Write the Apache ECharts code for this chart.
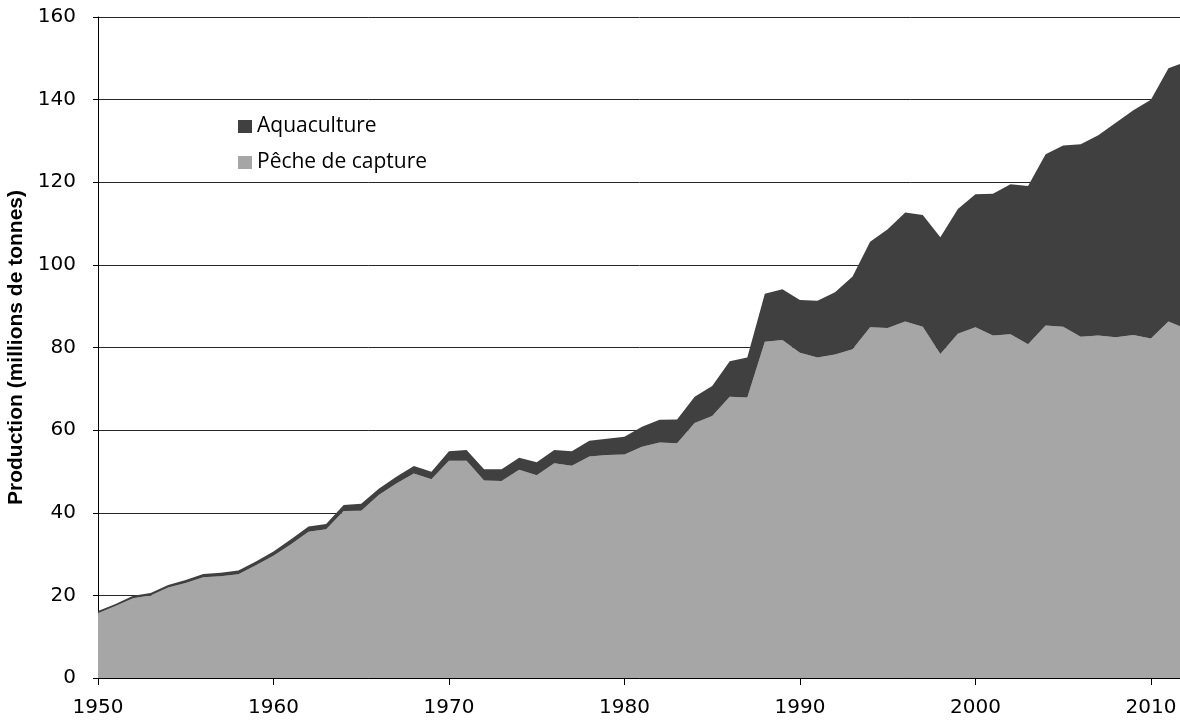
<!DOCTYPE html>
<html>
<head>
<meta charset="utf-8">
<title>Production mondiale</title>
<script src="https://cdn.jsdelivr.net/npm/echarts@6.0.0/dist/echarts.min.js"></script>
<style>
	html, body { margin: 0; padding: 0; background: #ffffff; }
	#productionChart { width: 1180px; height: 721px; }
</style>
</head>
<body>
<div id="productionChart"></div>
<script>
// années 1950 - 2012
var years = ['1950', '1951', '1952', '1953', '1954', '1955', '1956', '1957', '1958', '1959',
	'1960', '1961', '1962', '1963', '1964', '1965', '1966', '1967', '1968', '1969',
	'1970', '1971', '1972', '1973', '1974', '1975', '1976', '1977', '1978', '1979',
	'1980', '1981', '1982', '1983', '1984', '1985', '1986', '1987', '1988', '1989',
	'1990', '1991', '1992', '1993', '1994', '1995', '1996', '1997', '1998', '1999',
	'2000', '2001', '2002', '2003', '2004', '2005', '2006', '2007', '2008', '2009',
	'2010', '2011', '2012'];

// pêche de capture (millions de tonnes)
var captureValues = [15.7, 17.4, 19.3, 20.0, 21.9, 23.0, 24.4, 24.6, 25.1, 27.3,
	29.6, 32.4, 35.4, 36.0, 40.4, 40.5, 44.3, 47.1, 49.5, 48.1,
	52.6, 52.6, 47.8, 47.7, 50.4, 49.1, 52.0, 51.4, 53.6, 54.0,
	54.1, 56.0, 57.0, 56.8, 61.7, 63.4, 68.1, 67.9, 81.4, 81.8,
	78.7, 77.6, 78.3, 79.6, 84.9, 84.7, 86.3, 85.0, 78.4, 83.3,
	84.9, 82.9, 83.2, 80.8, 85.3, 85.0, 82.6, 82.9, 82.5, 83.0,
	82.2, 86.3, 84.5];

// aquaculture (millions de tonnes)
var aquacultureValues = [0.5, 0.5, 0.6, 0.6, 0.6, 0.7, 0.8, 0.9, 0.9, 0.9,
	1.0, 1.2, 1.3, 1.3, 1.5, 1.7, 1.5, 1.6, 1.8, 1.8,
	2.3, 2.6, 2.7, 2.8, 2.9, 3.1, 3.2, 3.5, 3.8, 3.9,
	4.3, 4.8, 5.5, 5.8, 6.4, 7.3, 8.6, 9.7, 11.6, 12.3,
	12.8, 13.7, 15.1, 17.6, 20.7, 23.9, 26.4, 27.1, 28.3, 30.2,
	32.2, 34.3, 36.3, 38.3, 41.5, 43.9, 46.6, 48.5, 51.9, 54.4,
	57.8, 61.3, 64.7];

var captureColor = '#a6a6a6';
var aquacultureColor = '#404040';

// seulement les décennies sur l'axe x
function isDecade(index, value) {
	return parseInt(value, 10) % 10 === 0;
}

var productionChart = echarts.init(document.getElementById("productionChart"));

var optionProductionChart = {
	animation: false,
	backgroundColor: '#ffffff',
	grid: {
		left: 98,
		right: -6, // la dernière année (2012) sort un peu du cadre
		top: 17,
		bottom: 43,
		outerBoundsMode: 'none'
	},
	legend: {
		orient: 'vertical',
		left: 238,
		top: 116,
		padding: 0,
		icon: 'rect',
		itemWidth: 14,
		itemHeight: 13,
		itemGap: 15,
		data: ['Aquaculture', 'Pêche de capture'],
		textStyle: {
			fontFamily: 'Open Sans',
			fontSize: 21,
			color: '#000000'
		}
	},
	//axe x
	xAxis: {
		type: 'category',
		boundaryGap: false,
		data: years,
		axisLine: {
			onZero: false,
			lineStyle: { color: '#000000', width: 1 }
		},
		axisTick: {
			show: true,
			length: 7,
			interval: isDecade,
			lineStyle: { color: '#000000' }
		},
		axisLabel: {
			interval: isDecade,
			margin: 20,
			fontFamily: 'DejaVu Sans',
			fontSize: 20,
			color: '#000000'
		},
		splitLine: { show: false }
	},
	//axe y
	yAxis: {
		type: 'value',
		min: 0,
		max: 160,
		interval: 20,
		name: 'Production (millions de tonnes)',
		nameLocation: 'middle',
		nameGap: 64,
		nameTextStyle: {
			fontFamily: 'Liberation Sans',
			fontWeight: 'bold',
			fontSize: 21,
			color: '#000000'
		},
		axisLine: {
			show: true,
			lineStyle: { color: '#000000', width: 1 }
		},
		axisTick: {
			show: true,
			length: 5,
			lineStyle: { color: '#000000' }
		},
		axisLabel: {
			margin: 22,
			fontFamily: 'DejaVu Sans',
			fontSize: 20,
			color: '#000000'
		},
		splitLine: {
			show: true,
			lineStyle: { color: '#262626', width: 1 }
		}
	},
	series: [{
		name: 'Pêche de capture',
		type: 'line',
		stack: 'production',
		data: captureValues,
		showSymbol: false,
		symbol: 'none',
		lineStyle: { width: 0 },
		itemStyle: { color: captureColor },
		areaStyle: { color: captureColor, opacity: 1 }
	}, {
		name: 'Aquaculture',
		type: 'line',
		stack: 'production',
		data: aquacultureValues,
		showSymbol: false,
		symbol: 'none',
		lineStyle: { width: 0 },
		itemStyle: { color: aquacultureColor },
		areaStyle: { color: aquacultureColor, opacity: 1 }
	}]
};

productionChart.setOption(optionProductionChart);
</script>
</body>
</html>
